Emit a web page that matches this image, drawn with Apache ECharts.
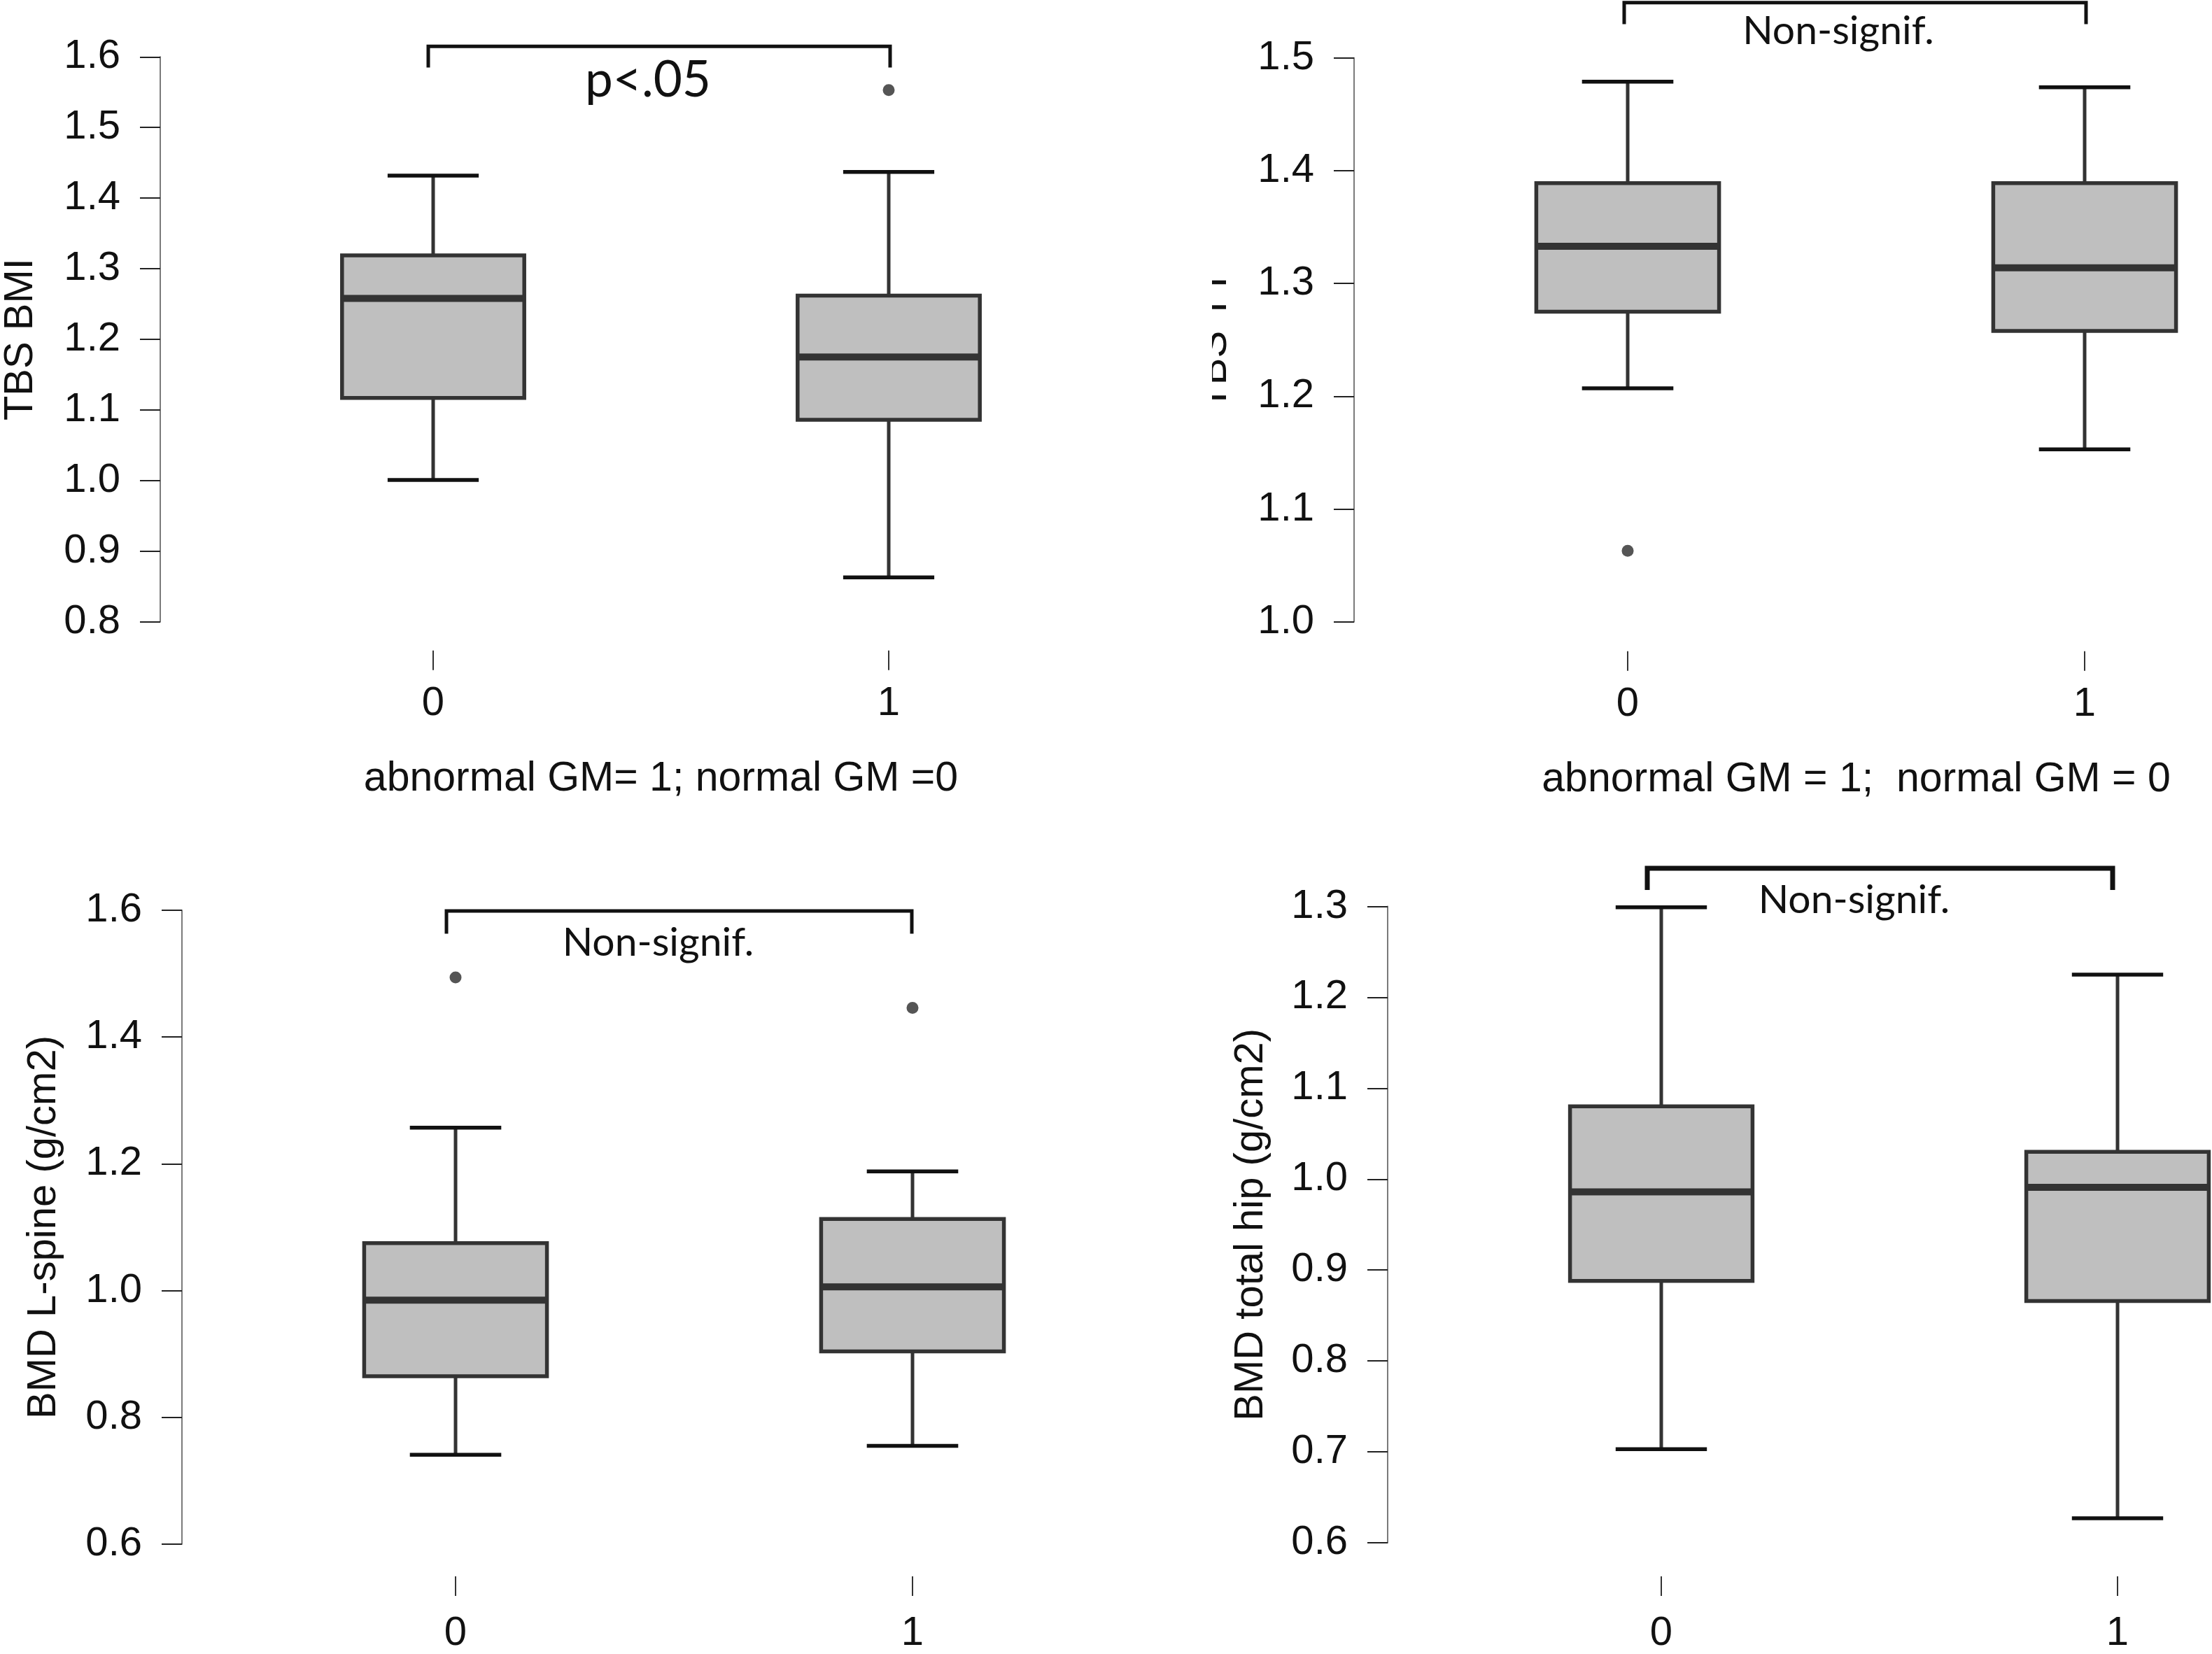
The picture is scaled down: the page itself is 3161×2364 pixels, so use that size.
<!DOCTYPE html>
<html>
<head>
<meta charset="utf-8">
<title>TBS / BMD boxplots</title>
<script src="https://cdn.jsdelivr.net/npm/echarts@6/dist/echarts.min.js"></script>
<style>
  html, body { margin: 0; padding: 0; background: #fff; }
  #chart { width: 3161px; height: 2364px; }
</style>
</head>
<body>
<div id="chart"></div>
<script>
// groups on the x axis
const categories = ['0', '1'];

// [lower whisker, Q1, median, Q3, upper whisker] per group
const tbsBmiStats = [[1.001, 1.117, 1.258, 1.319, 1.432], [0.863, 1.086, 1.175, 1.262, 1.437]];
const tbsTtStats = [[1.207, 1.275, 1.333, 1.389, 1.479], [1.153, 1.258, 1.314, 1.389, 1.474]];
const lSpineStats = [[0.741, 0.865, 0.985, 1.075, 1.257], [0.755, 0.904, 1.006, 1.113, 1.188]];
const hipStats = [[0.703, 0.888, 0.986, 1.080, 1.299], [0.627, 0.866, 0.991, 1.030, 1.225]];

// outliers: [group index, value]
const tbsBmiOutliers = [[1, 1.553]];
const tbsTtOutliers = [[0, 1.063]];
const lSpineOutliers = [[0, 1.494], [1, 1.446]];
const hipOutliers = [];

// significance brackets: [from group, to group, bar value, foot value, label value]
const tbsBmiBracket = [[0, 1, 1.615, 1.585, 1.567]];
const tbsTtBracket = [[0, 1, 1.549, 1.530, 1.5235]];
const lSpineBracket = [[0, 1, 1.599, 1.563, 1.549]];
const hipBracket = [[0, 1, 1.342, 1.318, 1.307]];
const bracketLabels = ['p<.05', 'Non-signif.', 'Non-signif.', 'Non-signif.'];

// axis titles and ranges
const yNames = ['TBS BMI', 'TBS TT', 'BMD L-spine (g/cm2)', 'BMD total hip (g/cm2)'];
const xNames = ['abnormal GM= 1; normal GM =0', 'abnormal GM = 1;  normal GM = 0', '', ''];
const yMins = [0.8, 1.0, 0.6, 0.6];
const yMaxs = [1.6, 1.5, 1.6, 1.3];
const yIntervals = [0.1, 0.1, 0.2, 0.1];

const ARIAL = '"Liberation Sans", Arial, sans-serif';
const CALIBRI = 'Lato, "Open Sans", sans-serif';
const INK = '#111';
const BOX_LINE = '#333';
const BOX_FILL = '#bfbfbf';

// layout of the four panels (pixels); grid spans from group 0 to group 1
const panels = [
    { stats: tbsBmiStats, outliers: tbsBmiOutliers, bracket: tbsBmiBracket,
      grid: { left: 617, top: 81.3, width: 653, height: 807.5 },
      yOffset: 390, xOffset: 41, labelMargin: 47, nameGap: 170, xNameGap: 154, bracketWidth: 5,
      bracketShift: [-7, 2], textShift: -16, textSize: 71 },
    { stats: tbsTtStats, outliers: tbsTtOutliers, bracket: tbsTtBracket,
      grid: { left: 2326, top: 82.8, width: 653, height: 806 },
      yOffset: 391, xOffset: 42, labelMargin: 47, nameGap: 170, xNameGap: 154, bracketWidth: 5,
      bracketShift: [-5, 2], textShift: -24, textSize: 57 },
    { stats: lSpineStats, outliers: lSpineOutliers, bracket: lSpineBracket,
      grid: { left: 651, top: 1301, width: 653, height: 919 },
      yOffset: 391, xOffset: 46, labelMargin: 53, nameGap: 168, xNameGap: 154, bracketWidth: 5,
      bracketShift: [-13, -1], textShift: -30, textSize: 57 },
    { stats: hipStats, outliers: hipOutliers, bracket: hipBracket,
      grid: { left: 2374, top: 1295.5, width: 652, height: 917.5 },
      yOffset: 391, xOffset: 48, labelMargin: 53, nameGap: 166, xNameGap: 154, bracketWidth: 7,
      bracketShift: [-20, -7], textShift: -37, textSize: 57 }
];

function renderBox(params, api) {
    const i = api.value(0);
    const lo = api.coord([i, api.value(1)]);
    const q1 = api.coord([i, api.value(2)]);
    const med = api.coord([i, api.value(3)]);
    const q3 = api.coord([i, api.value(4)]);
    const hi = api.coord([i, api.value(5)]);
    const band = api.size([1, 0])[0];
    const cx = med[0];
    const bw = band * 0.4;
    const cw = band * 0.2;
    return {
        type: 'group',
        children: [
            { type: 'line', shape: { x1: cx, y1: hi[1], x2: cx, y2: q3[1] }, style: { stroke: BOX_LINE, lineWidth: 5 } },
            { type: 'line', shape: { x1: cx, y1: q1[1], x2: cx, y2: lo[1] }, style: { stroke: BOX_LINE, lineWidth: 5 } },
            { type: 'line', shape: { x1: cx - cw / 2, y1: hi[1], x2: cx + cw / 2, y2: hi[1] }, style: { stroke: INK, lineWidth: 5.5 } },
            { type: 'line', shape: { x1: cx - cw / 2, y1: lo[1], x2: cx + cw / 2, y2: lo[1] }, style: { stroke: INK, lineWidth: 5.5 } },
            { type: 'rect', shape: { x: cx - bw / 2, y: q3[1], width: bw, height: q1[1] - q3[1] },
              style: { fill: BOX_FILL, stroke: BOX_LINE, lineWidth: 5.5 } },
            { type: 'line', shape: { x1: cx - bw / 2, y1: med[1], x2: cx + bw / 2, y2: med[1] }, style: { stroke: BOX_LINE, lineWidth: 10 } }
        ]
    };
}

function makeBracketRenderer(p, label) {
    return function (params, api) {
        const a = api.coord([api.value(0), api.value(2)]);
        const b = api.coord([api.value(1), api.value(2)]);
        const foot = api.coord([api.value(0), api.value(3)])[1];
        const t = api.coord([api.value(0), api.value(4)])[1];
        const x0 = a[0] + p.bracketShift[0];
        const x1 = b[0] + p.bracketShift[1];
        return {
            type: 'group',
            children: [
                { type: 'polyline', shape: { points: [[x0, foot], [x0, a[1]], [x1, a[1]], [x1, foot]] },
                  style: { stroke: INK, lineWidth: p.bracketWidth, fill: null } },
                { type: 'text', x: (x0 + x1) / 2 + p.textShift, y: t,
                  style: { text: label, fill: INK, font: p.textSize + 'px ' + CALIBRI,
                           textAlign: 'center', textVerticalAlign: 'middle' } }
            ]
        };
    };
}

const grids = [], xAxes = [], yAxes = [], series = [];
panels.forEach((p, k) => {
    grids.push(Object.assign({ containLabel: false }, p.grid));
    xAxes.push({
        type: 'category', gridIndex: k, data: categories, boundaryGap: false,
        position: 'bottom', offset: p.xOffset,
        axisLine: { show: false },
        axisTick: { show: true, length: 28, lineStyle: { color: '#333', width: 2 } },
        axisLabel: { color: INK, fontSize: 58, fontFamily: ARIAL, margin: p.labelMargin },
        splitLine: { show: false },
        name: xNames[k], nameLocation: 'middle', nameGap: p.xNameGap,
        nameTextStyle: { color: INK, fontSize: 59, fontFamily: ARIAL }
    });
    yAxes.push({
        type: 'value', gridIndex: k, min: yMins[k], max: yMaxs[k], interval: yIntervals[k],
        position: 'left', offset: p.yOffset,
        axisLine: { show: true, lineStyle: { color: '#7a7a7a', width: 2 } },
        axisTick: { show: true, length: 29, lineStyle: { color: '#222', width: 2 } },
        axisLabel: { color: INK, fontSize: 58, fontFamily: ARIAL, margin: 57,
                     formatter: v => v.toFixed(1) },
        splitLine: { show: false },
        name: yNames[k], nameLocation: 'middle', nameRotate: 90, nameGap: p.nameGap,
        nameTextStyle: { color: INK, fontSize: 58, fontFamily: ARIAL }
    });
    series.push({
        type: 'custom', xAxisIndex: k, yAxisIndex: k, renderItem: renderBox,
        encode: { x: 0, y: [1, 2, 3, 4, 5] }, clip: false,
        data: p.stats.map((s, i) => [i].concat(s)), silent: true, z: 2
    });
    series.push({
        type: 'scatter', xAxisIndex: k, yAxisIndex: k, data: p.outliers, clip: false,
        symbol: 'circle', symbolSize: 17, itemStyle: { color: '#2b2b2b' }, silent: true, z: 3
    });
    series.push({
        type: 'custom', xAxisIndex: k, yAxisIndex: k, renderItem: makeBracketRenderer(p, bracketLabels[k]),
        encode: { x: [0, 1], y: [2, 3, 4] }, clip: false,
        data: p.bracket, silent: true, z: 4
    });
});

const chart = echarts.init(document.getElementById('chart'), null, { renderer: 'canvas' });
chart.setOption({
    backgroundColor: '#fff',
    animation: false,
    grid: grids,
    xAxis: xAxes,
    yAxis: yAxes,
    series: series,
    // the TT panel's axis title is cut in the original: only the baseline edge shows
    graphic: [{ type: 'rect', z: 100, shape: { x: 1680, y: 360, width: 52, height: 270 }, style: { fill: '#fff' } }]
});
</script>
</body>
</html>
